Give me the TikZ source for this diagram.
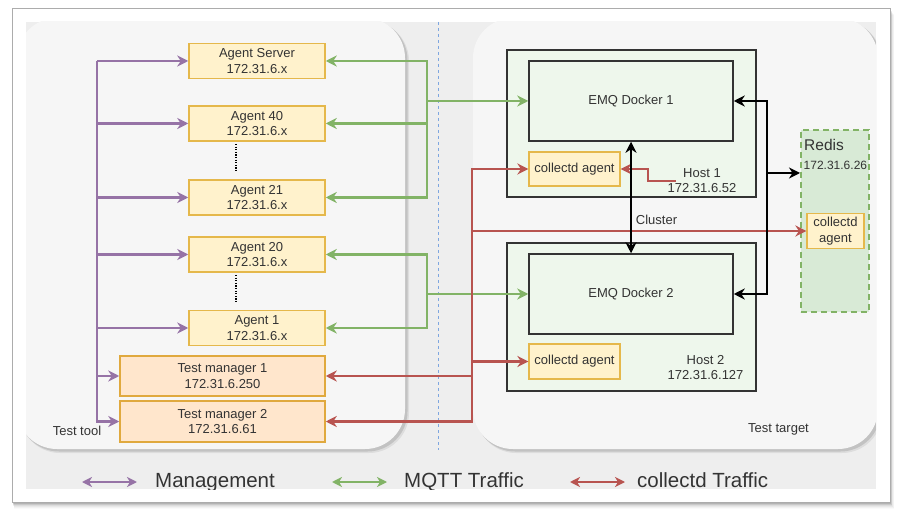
\documentclass[tikz,border=0pt]{standalone}
\usepackage{fontspec}
\setmainfont{Liberation Sans}
\usetikzlibrary{arrows.meta,calc}
\definecolor{cpurple}{HTML}{9673A6}
\definecolor{cgreen}{HTML}{82B366}
\definecolor{cred}{HTML}{B85450}
\definecolor{ayfill}{HTML}{FFF2CC}
\definecolor{aydraw}{HTML}{E5B84B}
\definecolor{tmfill}{HTML}{FFE6CC}
\definecolor{tmdraw}{HTML}{E0A93E}
\definecolor{hostfill}{HTML}{EEF7EC}
\definecolor{redisfill}{HTML}{D8EAD6}
\definecolor{bggray}{HTML}{EEEEEE}
\definecolor{panelfill}{HTML}{F6F6F6}
\definecolor{txt}{HTML}{333333}
\definecolor{dashblue}{HTML}{7EA6E0}
\tikzset{
  boxtext/.style={font=\fontsize{13}{15.5}\selectfont, text=txt, align=center, inner sep=0pt},
  agentbox/.style={boxtext, draw=aydraw, fill=ayfill, line width=1.5pt, minimum width=136pt, minimum height=35pt},
  tmbox/.style={boxtext, draw=tmdraw, fill=tmfill, line width=1.5pt, minimum width=205pt, minimum height=40pt},
  cabox/.style={boxtext, draw=aydraw, fill=ayfill, line width=1.2pt, minimum width=91pt, minimum height=34pt},
  hostbox/.style={draw=txt, fill=hostfill, line width=1.5pt, minimum width=249pt, minimum height=147pt, inner sep=0pt},
  emqbox/.style={boxtext, draw=txt, fill=hostfill, line width=1.5pt, minimum width=204pt, minimum height=80pt},
  redisbox/.style={draw=cgreen, fill=redisfill, line width=2pt, dash pattern=on 6pt off 4pt, minimum width=68pt, minimum height=182pt, inner sep=0pt},
  txtlabel/.style={boxtext},
  conn/.style={line width=2.1pt, -{Stealth[length=11pt,width=11pt,inset=3.5pt]}},
  mgmt/.style={conn, draw=cpurple},
  mqtt/.style={conn, draw=cgreen},
  coll/.style={conn, draw=cred},
  clus/.style={conn, draw=black},
  legarrow/.style={line width=2.1pt, {Stealth[length=10pt,width=10pt,inset=3pt]}-{Stealth[length=10pt,width=10pt,inset=3pt]}},
  legtext/.style={font=\fontsize{20.5}{24}\selectfont, text=txt, inner sep=0pt, anchor=base west},
  panelshape/.style={fill=panelfill, rounded corners=40pt},
  panelshadow/.style={fill=black, rounded corners=40pt},
}
\begin{document}
\begin{tikzpicture}[x=1pt,y=-1pt]
\useasboundingbox (0,0) rectangle (902,518);
% outer frame with shadow
\foreach \d/\o in {1/0.14,2/0.11,3/0.08,4/0.06,5/0.04,6/0.03,7/0.02}{
  \fill[black,opacity=\o] (12+0.3*\d,8+\d) rectangle (890+0.6*\d,502+\d);
}
\fill[white] (12,8) rectangle (890,502);
\draw[gray!65, line width=0.8pt] (12,8) rectangle (890,502);
\begin{scope}
\clip (26,22) rectangle (876,489);
\fill[bggray] (26,22) rectangle (876,489);
% panels
\fill[panelshadow, opacity=0.07] (20,21) rectangle (409,453);
\fill[panelshadow, opacity=0.12] (19,20) rectangle (407.5,451.5);
\fill[panelshadow, opacity=0.07] (476,21) rectangle (882,453);
\fill[panelshadow, opacity=0.12] (475,20) rectangle (880.5,451.5);
\fill[panelshape] (17,18) rectangle (405,449);
\fill[panelshape] (473,18) rectangle (878,449);
\draw[dashblue, line width=0.9pt, dash pattern=on 3pt off 3pt] (438,22) -- (438,450);

% left side boxes
\node[agentbox] (as)  at (257,61)    {Agent Server\\172.31.6.x};
\node[agentbox] (a40) at (257,123.5) {Agent 40\\172.31.6.x};
\node[agentbox] (a21) at (257,197.5) {Agent 21\\172.31.6.x};
\node[agentbox] (a20) at (257,254.5) {Agent 20\\172.31.6.x};
\node[agentbox] (a1)  at (257,328)   {Agent 1\\172.31.6.x};
\node[tmbox] (tm1) at (222.5,376) {Test manager 1\\172.31.6.250};
\node[tmbox, minimum height=41pt] (tm2) at (222.5,421.5) {Test manager 2\\172.31.6.61};
\draw[black, line width=1.6pt, dash pattern=on 1.3pt off 1.3pt] (236,144) -- (236,171);
\draw[black, line width=1.6pt, dash pattern=on 1.3pt off 1.3pt] (236,275) -- (236,302);
\node[txtlabel] (tt) at (77,430.5) {Test tool};

% right side
\node[hostbox] (h1) at (631.5,123.5) {};
\node[hostbox, minimum height=148pt] (h2) at (631.5,317) {};
\node[emqbox] (emq1) at (631,101) {EMQ Docker 1};
\node[emqbox] (emq2) at (631,294) {EMQ Docker 2};
\node[cabox] (ca1) at (574.5,169) {collectd agent};
\node[cabox, minimum height=35pt] (ca2) at (574.5,361.5) {collectd agent};
\node[txtlabel] (h1l) at (702,180.5) {Host 1\\172.31.6.52};
\node[txtlabel] (h2l) at (705.5,367.5) {Host 2\\172.31.6.127};
\node[redisbox] (redis) at (835,221) {};
\node[boxtext, font=\fontsize{15.5}{18}\selectfont, anchor=west] (rl) at (804,145) {Redis};
\node[boxtext, font=\fontsize{12}{14}\selectfont, anchor=west] (rip) at (803.5,165) {172.31.6.26};
\node[cabox, minimum width=57pt, minimum height=35pt] (rca) at (835.5,231) {collectd\\agent};
\node[txtlabel] (cl) at (656.5,220) {Cluster};
\node[txtlabel] (tg) at (778.5,429) {Test target};

% management (purple)
\coordinate (pm) at (97,61);
\foreach \n in {as,a40,a21,a20,a1,tm1,tm2}{
  \draw[mgmt] (pm) |- (\n.west);
}
% MQTT (green)
\coordinate (g1) at (427,101);
\coordinate (g2) at (427,294);
\draw[mqtt] (g1) -- (emq1.west);
\draw[mqtt] (g2) -- (emq2.west);
\foreach \n in {as,a40,a21}{ \draw[mqtt] (g1) |- (\n.east); }
\foreach \n in {a20,a1}{ \draw[mqtt] (g2) |- (\n.east); }
% collectd (red)
\coordinate (rt) at (472,231);
\draw[coll] (rt) |- (ca1.west);
\draw[coll] (rt) -- (rca.west);
\draw[coll] (rt) |- (ca2.west);
\draw[coll] (rt) |- (tm1.east);
\draw[coll] (rt) |- (tm2.east);
\coordinate (hl) at (676,181);
\draw[coll, line width=1.8pt] (hl) -- ++(-28,0) |- (ca1.east);
% cluster (black)
\draw[clus, {Stealth[length=11pt,width=11pt,inset=3.5pt]}-{Stealth[length=11pt,width=11pt,inset=3.5pt]}] (emq1.south) -- (emq2.north);
\coordinate (bk) at (767,173);
\draw[clus] (bk) |- (emq1.east);
\draw[clus] (bk) |- (emq2.east);
\draw[clus] (bk) -- (redis.west |- bk);

% legend
\coordinate (lp1) at (82,482); \coordinate (lp2) at (137,482);
\coordinate (lg1) at (332,482); \coordinate (lg2) at (387,482);
\coordinate (lr1) at (570,482); \coordinate (lr2) at (625,482);
\draw[legarrow, draw=cpurple] (lp1) -- (lp2);
\draw[legarrow, draw=cgreen] (lg1) -- (lg2);
\draw[legarrow, draw=cred] (lr1) -- (lr2);
\node[legtext] (lt1) at (155,487) {Management};
\node[legtext] (lt2) at (404,487) {MQTT Traffic};
\node[legtext] (lt3) at (637,487) {collectd Traffic};
\end{scope}
\end{tikzpicture}
\end{document}
